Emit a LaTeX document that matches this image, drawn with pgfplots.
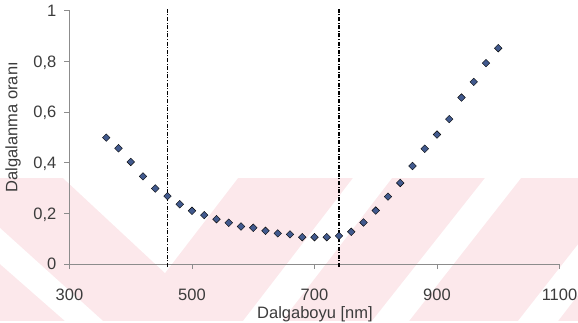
\documentclass[border=0pt]{standalone}
\usepackage{pgfplots}
\pgfplotsset{compat=1.18}
\usepackage{fontspec}
\setmainfont{Liberation Sans}

\definecolor{markblue}{RGB}{66,90,142}
\definecolor{wmpink}{RGB}{252,232,235}
\definecolor{axisgray}{RGB}{140,140,140}
\definecolor{labelgray}{RGB}{60,60,60}

\begin{document}
\begin{tikzpicture}
% background band with diagonal stripes (coordinates in pixels, y downward)
\begin{scope}[x=1bp, y=-1bp, shift={(-69.5bp,264bp)}]
  \path[use as bounding box] (0,0) rectangle (578,321);
  \clip (0,0) rectangle (578,321);
  \fill[white] (0,0) rectangle (578,321);
  \fill[wmpink] (0,178) rectangle (578,321);
  \fill[white] (0,228) -- (0,264) -- (65,321) -- (103,321) -- cycle;
  \fill[white] (63,178) -- (238,178) -- (165,273) -- cycle;
  \fill[white] (353,178) -- (392,178) -- (282,321) -- (243,321) -- cycle;
  \fill[white] (485,178) -- (521,178) -- (409,321) -- (372,321) -- cycle;
  \fill[white] (630,178) -- (668,178) -- (558,321) -- (518,321) -- cycle;
\end{scope}
\begin{axis}[
  at={(0,0)}, anchor=south west,
  scale only axis, width=490bp, height=253.3bp,
  xmin=300, xmax=1100, ymin=0, ymax=1,
  clip=false,
  axis x line*=bottom, axis y line*=left,
  axis line style={draw=axisgray, line width=0.8pt},
  xtick={300,500,700,900,1100},
  ytick={0,0.2,0.4,0.6,0.8,1},
  tick align=outside,
  major tick length=5bp,
  tick style={draw=axisgray, line width=0.8pt},
  /pgf/number format/assume math mode=true,
  /pgf/number format/use comma,
  /pgf/number format/1000 sep={},
  ticklabel style={font=\fontsize{16.5bp}{19bp}\selectfont, text=labelgray},
  xticklabel style={anchor=base, inner sep=0pt, yshift=-31bp},
  yticklabel style={anchor=base east, inner sep=0pt, xshift=-8bp, yshift=-5.9bp},
  label style={font=\fontsize{16.5bp}{19bp}\selectfont, text=labelgray},
  xlabel={Dalgaboyu [nm]},
  xlabel style={at={(axis description cs:0.501,-0.217)}, anchor=base, inner sep=0pt},
  ylabel={Dalgalanma oranı},
  ylabel style={at={(axis description cs:-0.1153,0.54)}, anchor=center, inner sep=0pt},
]
% range limits
\addplot[black, line width=1.1pt, dash pattern=on 4bp off 1.6bp on 1bp off 1.6bp]
  coordinates {(460,-0.012) (460,1.01)};
\addplot[black, line width=1.1pt, dash pattern=on 4bp off 1.6bp on 1bp off 1.6bp]
  coordinates {(740,-0.012) (740,1.01)};
% measured ripple ratio
\addplot[only marks, mark=square*, mark size=2.7bp,
  mark options={draw=none, fill=markblue, rotate=45}]
  table {
x y
360 0.499
380 0.457
400 0.403
420 0.346
440 0.298
460 0.268
480 0.236
500 0.210
520 0.193
540 0.177
560 0.163
580 0.148
600 0.143
620 0.131
640 0.121
660 0.117
680 0.106
700 0.106
720 0.106
740 0.111
760 0.127
780 0.164
800 0.211
820 0.266
840 0.320
860 0.387
880 0.455
900 0.511
920 0.572
940 0.657
960 0.719
980 0.793
1000 0.852
};
\end{axis}
\end{tikzpicture}
\end{document}
